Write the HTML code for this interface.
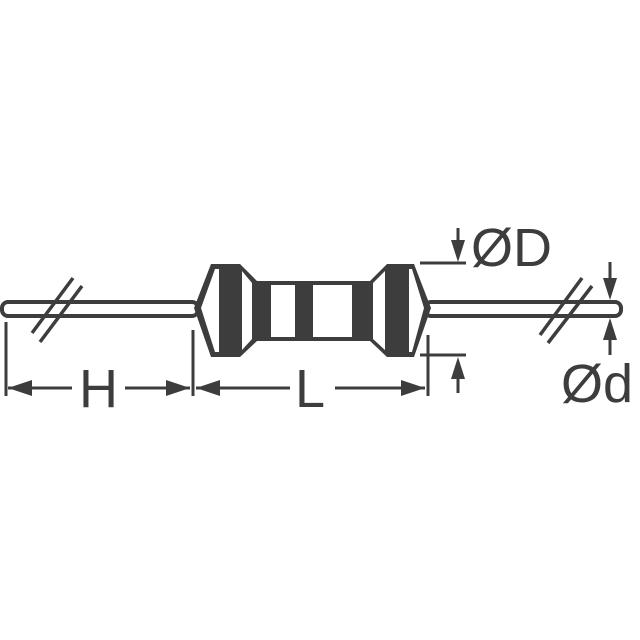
<!DOCTYPE html>
<html><head><meta charset="utf-8"><style>body{margin:0;background:#fff}svg{display:block}</style></head><body>
<svg width="640" height="640" viewBox="0 0 640 640" xmlns="http://www.w3.org/2000/svg">
<g fill="#fff" stroke="#3d3d3d" stroke-width="4">
<rect x="2" y="302" width="196" height="14" rx="6"/>
<rect x="425" y="302" width="196" height="14" rx="6"/>
</g>
<g stroke="#3d3d3d" stroke-width="3.5" fill="none">
<line x1="32" y1="333" x2="73" y2="278"/><line x1="40" y1="342" x2="82" y2="286"/>
<line x1="540" y1="335" x2="582" y2="278"/><line x1="548" y1="343" x2="592" y2="286"/>
</g>
<polygon fill="#3d3d3d" points="194,308 211,264 240,264 257,281 370,281 387,264 414,264 431,308 414,357 387,357 370,341 257,341 240,357 211,357"/>
<g fill="#fff">
<polygon points="201,308 215,269 219,269 219,352 215,352"/>
<polygon points="242,271 252,283 252,339 242,350"/>
<rect x="271" y="285" width="24" height="52"/>
<rect x="313" y="285" width="39" height="52"/>
<polygon points="373,283 385,271 385,350 373,339"/>
<polygon points="409,269 412,269 424,308 412,352 409,352"/>
</g>
<g stroke="#3d3d3d" stroke-width="3" fill="none">
<line x1="6" y1="322" x2="6" y2="396"/>
<line x1="193" y1="330" x2="193" y2="396"/>
<line x1="428" y1="335" x2="428" y2="396"/>
<line x1="8" y1="388" x2="72" y2="388"/><line x1="125" y1="388" x2="190" y2="388"/>
<line x1="196" y1="388" x2="290" y2="388"/><line x1="335" y1="388" x2="425" y2="388"/>
<line x1="420" y1="263" x2="466" y2="263"/>
<line x1="420" y1="355" x2="466" y2="355"/>
<line x1="458" y1="228" x2="458" y2="250"/>
<line x1="458" y1="368" x2="458" y2="393"/>
<line x1="610" y1="262" x2="610" y2="290"/>
<line x1="610" y1="328" x2="610" y2="355"/>
</g>
<g fill="#3d3d3d">
<polygon points="8,388 32,380 32,396"/>
<polygon points="190,388 166,380 166,396"/>
<polygon points="196,388 220,380 220,396"/>
<polygon points="425,388 401,380 401,396"/>
<polygon points="458,262 451,240 465,240"/>
<polygon points="458,357 451,379 465,379"/>
<polygon points="610,300 603,278 617,278"/>
<polygon points="610,318 603,340 617,340"/>
</g>
<g font-family="Liberation Sans, sans-serif" font-size="54" fill="#3d3d3d">
<text x="79" y="407">H</text>
<text x="295" y="407">L</text>
<text x="471" y="266">ØD</text>
<text x="561" y="402">Ød</text>
</g>
</svg>
</body></html>
